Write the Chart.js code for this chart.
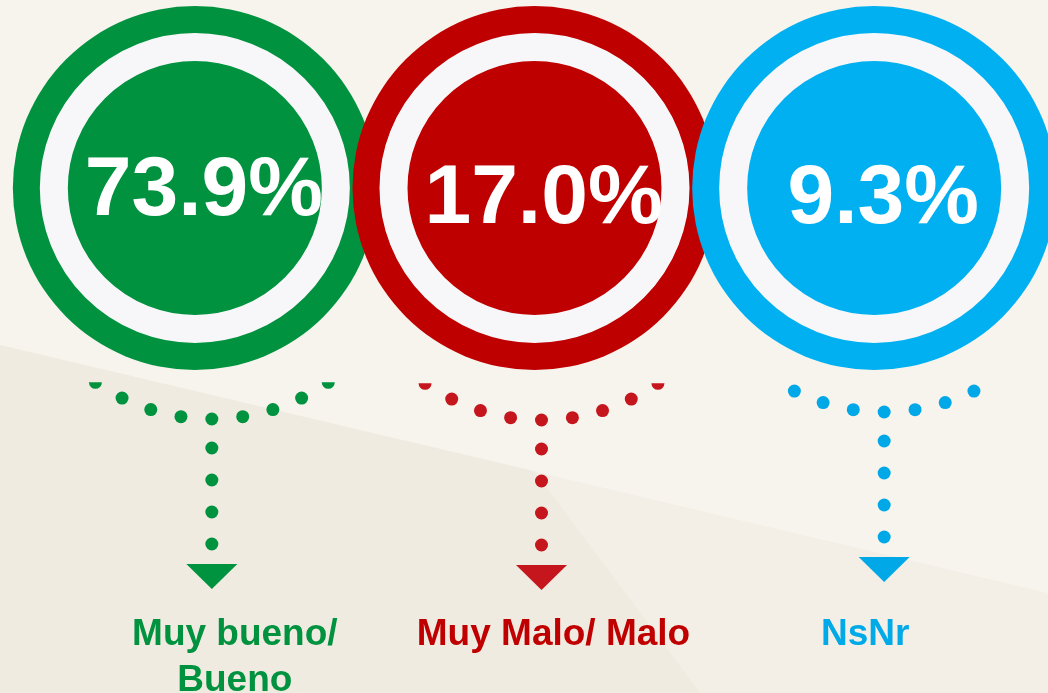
<!DOCTYPE html>
<html>
<head>
<meta charset="utf-8">
<script src="https://cdn.jsdelivr.net/npm/chart.js@4.4.0/dist/chart.umd.min.js"></script>
<style>
  html, body { margin: 0; padding: 0; background: #f7f4ee; }
  #wrap { width: 1048px; height: 693px; position: relative; }
</style>
</head>
<body>
<div id="wrap"><canvas id="rings"></canvas></div>
<script>
// data
const categories = [['Muy bueno/', 'Bueno'], ['Muy Malo/ Malo'], ['NsNr']];
const values = [73.9, 17.0, 9.3];

// colours
const ringColors = ['#00923f', '#bf0000', '#00b0f0'];
const dotColors = ['#00933f', '#c5161d', '#00a8e8'];
const labelColors = ['#00923f', '#c00000', '#00a9e8'];
const WHITE = '#f7f7fa';

// per medallion offsets (px, from the point centre)
const textShift = [9, 9, 9];
const textDrop = [27, 35, 35];
const arrowShift = [17, 7, 10];
const arrowDrop = [231, 232, 224];
const labelShift = [40, 19, -9];
const arcHalfCount = [4, 4, 3];

// background shapes
const backdrop = {
    id: 'backdrop',
    beforeDraw(chart) {
        const ctx = chart.ctx, w = chart.width, h = chart.height;
        ctx.save();
        ctx.fillStyle = '#f7f4ee';
        ctx.fillRect(0, 0, w, h);
        ctx.fillStyle = '#f3efe6';
        ctx.beginPath();
        ctx.moveTo(0, 345); ctx.lineTo(w, 593); ctx.lineTo(w, h); ctx.lineTo(0, h);
        ctx.closePath(); ctx.fill();
        ctx.fillStyle = '#f0ebe1';
        ctx.beginPath();
        ctx.moveTo(0, 345); ctx.lineTo(534, 471); ctx.lineTo(700, h); ctx.lineTo(0, h);
        ctx.closePath(); ctx.fill();
        ctx.restore();
    }
};

// outer coloured ring behind each point
const outerRing = {
    id: 'outerRing',
    beforeDatasetsDraw(chart) {
        const ctx = chart.ctx;
        chart.getDatasetMeta(0).data.forEach((el, i) => {
            ctx.save();
            ctx.fillStyle = ringColors[i];
            ctx.beginPath();
            ctx.arc(el.x, el.y, 182, 0, Math.PI * 2);
            ctx.fill();
            ctx.restore();
        });
    }
};

// percentages, dotted arrows and labels
const decorations = {
    id: 'decorations',
    afterDatasetsDraw(chart) {
        const ctx = chart.ctx, w = chart.width, h = chart.height;
        const R = 203, step = 31 / 203, dotR = 6.5;
        chart.getDatasetMeta(0).data.forEach((el, i) => {
            // value
            ctx.save();
            ctx.fillStyle = '#ffffff';
            ctx.font = 'bold 84px "Liberation Sans", Arial, sans-serif';
            ctx.textAlign = 'center';
            ctx.textBaseline = 'alphabetic';
            ctx.fillText(values[i].toFixed(1) + '%', el.x + textShift[i], el.y + textDrop[i]);
            ctx.restore();

            const ax = el.x + arrowShift[i];
            const by = el.y + arrowDrop[i];
            ctx.save();
            ctx.fillStyle = dotColors[i];

            // arc of dots, the end ones cut in half
            ctx.save();
            ctx.beginPath();
            ctx.rect(0, by - R * (1 - Math.cos(4 * step)), w, h);
            ctx.clip();
            const n = arcHalfCount[i];
            for (let k = -n; k <= n; k++) {
                ctx.beginPath();
                ctx.arc(ax + R * Math.sin(k * step), by - R * (1 - Math.cos(k * step)), dotR, 0, Math.PI * 2);
                ctx.fill();
            }
            ctx.restore();

            // vertical dots
            for (let j = 0; j < 4; j++) {
                ctx.beginPath();
                ctx.arc(ax, by + 29 + 32 * j, dotR, 0, Math.PI * 2);
                ctx.fill();
            }

            // arrow head
            const top = by + 145;
            ctx.beginPath();
            ctx.moveTo(ax - 25.5, top);
            ctx.lineTo(ax + 25.5, top);
            ctx.lineTo(ax, top + 25);
            ctx.closePath();
            ctx.fill();
            ctx.restore();

            // label
            ctx.save();
            ctx.fillStyle = labelColors[i];
            ctx.font = 'bold 37px "Liberation Sans", Arial, sans-serif';
            ctx.textAlign = 'center';
            ctx.textBaseline = 'alphabetic';
            categories[i].forEach((line, l) => {
                ctx.fillText(line, el.x + labelShift[i], el.y + 457 + 46 * l);
            });
            ctx.restore();
        });
    }
};

document.addEventListener('DOMContentLoaded', function () {
    let ctx = document.getElementById('rings').getContext('2d');

    let data = {
        datasets: [{
            label: 'Evaluación',
            data: values.map((v, i) => ({ x: i, y: 0 })),
            pointRadius: 141,
            pointHoverRadius: 141,
            pointBackgroundColor: ringColors,
            pointBorderColor: WHITE,
            pointBorderWidth: 28,
            pointHoverBorderWidth: 28,
            clip: false
        }]
    };

    let options = {
        responsive: true,
        maintainAspectRatio: false,
        animation: false,
        events: [],
        layout: { autoPadding: false, padding: { left: 25, right: 4, top: 0, bottom: 317 } },
        scales: {
            x: { type: 'linear', min: -0.5, max: 2.5, display: false },
            y: { type: 'linear', min: -1, max: 1, display: false }
        },
        plugins: {
            legend: { display: false },
            tooltip: { enabled: false }
        }
    };

    new Chart(ctx, {
        type: 'scatter',
        data: data,
        options: options,
        plugins: [backdrop, outerRing, decorations]
    });
});
</script>
</body>
</html>
